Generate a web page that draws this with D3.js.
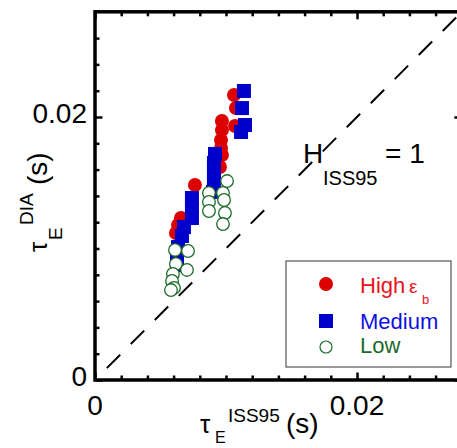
<!DOCTYPE html>
<html>
<head>
<meta charset="utf-8">
<script src="https://cdn.jsdelivr.net/npm/d3@7"></script>
<style>
  html, body { margin: 0; padding: 0; background: #fff; }
  svg { display: block; font-family: "Liberation Sans", Arial, Helvetica, sans-serif; }
</style>
</head>
<body>
<div id="chart"></div>
<script>
// tau_E^DIA vs tau_E^ISS95, three epsilon_b groups

// ---- data: [tauE ISS95 (s), tauE DIA (s)] ----
const highPts = [
  [0.01061, 0.02167], [0.01076, 0.02068], [0.01069, 0.01932], [0.00969, 0.01970],
  [0.00969, 0.01901], [0.00962, 0.01825], [0.00962, 0.01764], [0.00969, 0.01711],
  [0.00954, 0.01620], [0.00763, 0.01483], [0.00656, 0.01232], [0.00634, 0.01179],
  [0.00618, 0.01118]
];
const mediumPts = [
  [0.01137, 0.02198], [0.01122, 0.02068], [0.01145, 0.01939], [0.01115, 0.01886],
  [0.00916, 0.01719], [0.00908, 0.01650], [0.00908, 0.01574], [0.00908, 0.01498],
  [0.00901, 0.01430], [0.00740, 0.01384], [0.00740, 0.01308], [0.00740, 0.01232],
  [0.00679, 0.01163], [0.00664, 0.01095], [0.00634, 0.01011], [0.00626, 0.00935],
  [0.00626, 0.00875]
];
const lowPts = [
  [0.01008, 0.01513], [0.00870, 0.01422], [0.00977, 0.01422], [0.00870, 0.01354],
  [0.00985, 0.01369], [0.00870, 0.01285], [0.00992, 0.01270], [0.00977, 0.01186],
  [0.00611, 0.00989], [0.00710, 0.00981], [0.00618, 0.00882], [0.00702, 0.00837],
  [0.00595, 0.00806], [0.00588, 0.00753], [0.00603, 0.00700], [0.00580, 0.00684]
];
const majorTicks = [0, 0.02];
const minorTicks = [0.002, 0.004, 0.006, 0.008, 0.01, 0.012, 0.014, 0.016, 0.018,
  0.022, 0.024, 0.026];
const diagEnds = [0.0009, 0.028];
const axisMax = 0.028;

const COLORS = {
  high: '#dd0000', medium: '#0000cc', low: '#1c6b29',
  highText: '#e8121c', mediumText: '#1010e0', lowText: '#1c6b29'
};

const W = 457, H = 448;
const svg = d3.select('#chart').append('svg').attr('width', W).attr('height', H);

const x = d3.scaleLinear().domain([0, axisMax]).range([95, 461.8]);
const y = d3.scaleLinear().domain([0, axisMax]).range([380, 11.8]);

// ---- ticks (all pointing inward) ----
function styleTicks(g, w) {
  g.select('.domain').remove();
  g.selectAll('line').attr('stroke', '#000').attr('stroke-width', w);
}
const sides = [
  { make: d3.axisBottom, scale: x, tr: `translate(0,${y(0)})` },
  { make: d3.axisTop, scale: x, tr: `translate(0,${y(axisMax)})` },
  { make: d3.axisLeft, scale: y, tr: `translate(${x(0)},0)` },
  { make: d3.axisRight, scale: y, tr: `translate(${x(axisMax)},0)` }
];
sides.forEach(s => {
  svg.append('g').attr('transform', s.tr)
    .call(s.make(s.scale).tickValues(minorTicks).tickSize(-4.5).tickFormat(''))
    .call(g => styleTicks(g, 2.5));
  svg.append('g').attr('transform', s.tr)
    .call(s.make(s.scale).tickValues(majorTicks).tickSize(-7.5).tickFormat(''))
    .call(g => styleTicks(g, 2.5));
});

// frame
svg.append('rect')
  .attr('x', x(0)).attr('y', y(axisMax))
  .attr('width', x(axisMax) - x(0)).attr('height', y(0) - y(axisMax))
  .attr('fill', 'none').attr('stroke', '#000').attr('stroke-width', 3.5);

// tick labels
const fmt = d => d === 0 ? '0' : d3.format('.2f')(d);
svg.append('g').selectAll('text').data(majorTicks).join('text')
  .attr('x', d => x(d)).attr('y', 415)
  .attr('text-anchor', 'middle').attr('font-size', 28).text(fmt);
svg.append('g').selectAll('text').data(majorTicks).join('text')
  .attr('x', 87).attr('y', d => y(d) + 6)
  .attr('text-anchor', 'end').attr('font-size', 28).text(fmt);

// ---- H = 1 reference line ----
svg.append('path')
  .datum(diagEnds)
  .attr('d', d3.line().x(d => x(d)).y(d => y(d)))
  .attr('fill', 'none').attr('stroke', '#000').attr('stroke-width', 2)
  .attr('stroke-dasharray', '19,15');

const hLab = svg.append('text').attr('fill', '#000');
hLab.append('tspan').attr('x', 303).attr('y', 163).attr('font-size', 28).text('H');
hLab.append('tspan').attr('x', 323).attr('y', 185).attr('font-size', 20).text('ISS95');
hLab.append('tspan').attr('x', 385).attr('y', 163).attr('font-size', 28).text('= 1');

// ---- points ----
svg.append('g').selectAll('circle').data(highPts).join('circle')
  .attr('cx', d => x(d[0])).attr('cy', d => y(d[1])).attr('r', 7)
  .attr('fill', COLORS.high);
svg.append('g').selectAll('rect').data(mediumPts).join('rect')
  .attr('x', d => x(d[0]) - 7).attr('y', d => y(d[1]) - 7)
  .attr('width', 14).attr('height', 14).attr('fill', COLORS.medium);
svg.append('g').selectAll('circle').data(lowPts).join('circle')
  .attr('cx', d => x(d[0])).attr('cy', d => y(d[1])).attr('r', 6.3)
  .attr('fill', '#fff').attr('stroke', COLORS.low).attr('stroke-width', 1.3);

// ---- legend ----
const leg = svg.append('g');
leg.append('rect').attr('x', 286).attr('y', 261).attr('width', 165).attr('height', 106)
  .attr('fill', '#fff').attr('stroke', '#555').attr('stroke-width', 1.2);
leg.append('circle').attr('cx', 326).attr('cy', 284).attr('r', 7).attr('fill', COLORS.high);
leg.append('rect').attr('x', 319).attr('y', 314).attr('width', 14).attr('height', 14)
  .attr('fill', COLORS.medium);
leg.append('circle').attr('cx', 326).attr('cy', 347).attr('r', 6)
  .attr('fill', '#fff').attr('stroke', COLORS.low).attr('stroke-width', 1.2);
const hiTxt = leg.append('text').attr('fill', COLORS.highText);
hiTxt.append('tspan').attr('x', 360).attr('y', 293).attr('font-size', 22).text('High');
hiTxt.append('tspan').attr('x', 409).attr('y', 293).attr('font-size', 19).text('ε');
hiTxt.append('tspan').attr('x', 422).attr('y', 304).attr('font-size', 13).text('b');
leg.append('text').attr('x', 360).attr('y', 329).attr('font-size', 22)
  .attr('fill', COLORS.mediumText).text('Medium');
leg.append('text').attr('x', 360).attr('y', 353).attr('font-size', 22)
  .attr('fill', COLORS.lowText).text('Low');

// ---- axis titles ----
const xt = svg.append('text').attr('fill', '#000');
xt.append('tspan').attr('x', 200).attr('y', 433).attr('font-size', 26).text('τ');
xt.append('tspan').attr('x', 215).attr('y', 443).attr('font-size', 16).text('E');
xt.append('tspan').attr('x', 228).attr('y', 422).attr('font-size', 19).text('ISS95');
xt.append('tspan').attr('x', 286).attr('y', 433).attr('font-size', 28).text('(s)');

const yt = svg.append('text').attr('fill', '#000').attr('transform', 'rotate(-90)');
yt.append('tspan').attr('x', -252).attr('y', 47).attr('font-size', 26).text('τ');
yt.append('tspan').attr('x', -240).attr('y', 62).attr('font-size', 19).text('E');
yt.append('tspan').attr('x', -225).attr('y', 33).attr('font-size', 19).text('DIA');
yt.append('tspan').attr('x', -185).attr('y', 47).attr('font-size', 28).text('(s)');
</script>
</body>
</html>
